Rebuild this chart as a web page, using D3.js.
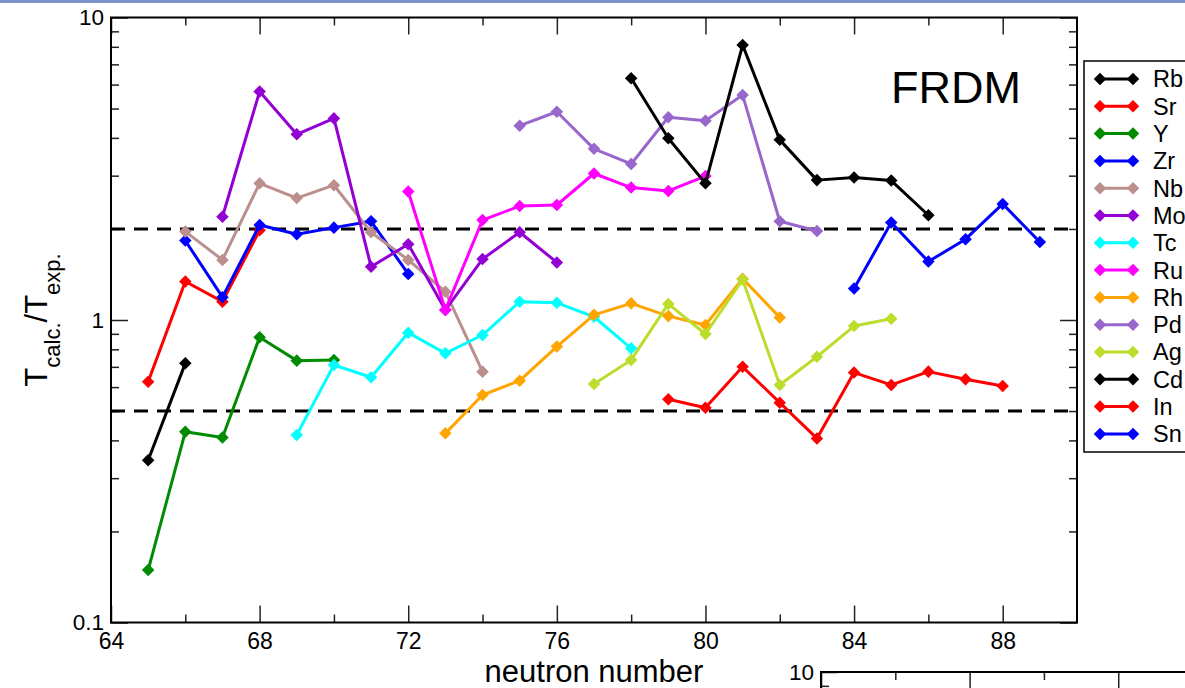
<!DOCTYPE html>
<html>
<head>
<meta charset="utf-8">
<script src="https://cdnjs.cloudflare.com/ajax/libs/d3/7.8.5/d3.min.js"></script>
<style>
  body { margin: 0; background: #fff; overflow: hidden; }
  text { font-family: "Liberation Sans", Arial, sans-serif; }
</style>
</head>
<body>
<div id="canevas"></div>
<script>

////////////////////////////////////////////////////////////////
//                          data                              //
////////////////////////////////////////////////////////////////

// [neutron number, T_calc / T_exp]
let rb = [[65, 0.344], [66, 0.719]];
let sr = [[65, 0.625], [66, 1.34], [67, 1.15], [68, 1.98]];
let y_ = [[65, 0.149], [66, 0.427], [67, 0.409], [68, 0.877], [69, 0.734], [70, 0.738]];
let zr = [[66, 1.83], [67, 1.19], [68, 2.06], [69, 1.92], [70, 2.02], [71, 2.12], [72, 1.42]];
let nb = [[66, 1.96], [67, 1.58], [68, 2.83], [69, 2.53], [70, 2.79], [71, 1.95], [72, 1.58], [73, 1.24], [74, 0.675]];
let mo = [[67, 2.195], [68, 5.69], [69, 4.11], [70, 4.64], [71, 1.5], [72, 1.78], [73, 1.08], [74, 1.59], [75, 1.95], [76, 1.55]];
let tc = [[69, 0.417], [70, 0.71], [71, 0.647], [72, 0.908], [73, 0.776], [74, 0.892], [75, 1.15], [76, 1.14], [77, 1.025], [78, 0.806]];
let ru = [[72, 2.66], [73, 1.08], [74, 2.14], [75, 2.38], [76, 2.40], [77, 3.05], [78, 2.74], [79, 2.67], [80, 2.99]];
let rh = [[73, 0.422], [74, 0.565], [75, 0.63], [76, 0.817], [77, 1.04], [78, 1.135], [79, 1.03], [80, 0.963], [81, 1.37], [82, 1.02]];
let pd = [[75, 4.39], [76, 4.88], [77, 3.68], [78, 3.28], [79, 4.68], [80, 4.56], [81, 5.54], [82, 2.12], [83, 1.97]];
let ag = [[77, 0.614], [78, 0.738], [79, 1.13], [80, 0.899], [81, 1.36], [82, 0.61], [83, 0.756], [84, 0.955], [85, 1.01]];
let cd = [[78, 6.3], [79, 3.99], [80, 2.83], [81, 8.11], [82, 3.94], [83, 2.90], [84, 2.96], [85, 2.89], [86, 2.22]];
let in_ = [[79, 0.547], [80, 0.513], [81, 0.70], [82, 0.533], [83, 0.406], [84, 0.67], [85, 0.61], [86, 0.675], [87, 0.637], [88, 0.605]];
let sn = [[84, 1.27], [85, 2.10], [86, 1.56], [87, 1.85], [88, 2.42], [89, 1.81]];

let elements = ["Rb", "Sr", "Y", "Zr", "Nb", "Mo", "Tc", "Ru", "Rh", "Pd", "Ag", "Cd", "In", "Sn"];
let series = [rb, sr, y_, zr, nb, mo, tc, ru, rh, pd, ag, cd, in_, sn];

// reference lines
let bornes = [2, 0.5];

// ticks
let xMajor = [64, 68, 72, 76, 80, 84, 88];
let xMinor = [66, 70, 74, 78, 82, 86];
let yMajor = [0.1, 1, 10];
let yMinor = [0.2, 0.3, 0.4, 0.5, 0.6, 0.7, 0.8, 0.9, 2, 3, 4, 5, 6, 7, 8, 9];

////////////////////////////////////////////////////////////////
//                          canvas                            //
////////////////////////////////////////////////////////////////

let largeur = 1185;
let hauteur = 688;

let couleurs = {
  Rb: "#000000", Sr: "#ff0000", Y: "#008b00", Zr: "#0000ff", Nb: "#bc8f8f",
  Mo: "#9400d3", Tc: "#00ffff", Ru: "#ff00ff", Rh: "#ffa500", Pd: "#9966cc",
  Ag: "#bbdd2c", Cd: "#000000", In: "#ff0000", Sn: "#0000ff"
};

let canevas = d3.select("#canevas")
  .append("svg")
  .attr("width", largeur)
  .attr("height", hauteur);

canevas.append("rect")
  .attr("width", "100%")
  .attr("height", "100%")
  .attr("fill", "#ffffff");

// slide bar on top
canevas.append("rect")
  .attr("x", 0).attr("y", 0)
  .attr("width", largeur).attr("height", 3)
  .attr("fill", "#7b93c7");

let gauche = 111, droite = 1077, haut = 17.5, bas = 622.5;

let echelleX = d3.scaleLinear()
  .domain([64, 90])
  .range([gauche, droite]);

let echelleY = d3.scaleLog()
  .domain([0.1, 10])
  .range([bas, haut]);

////////////////////////////////////////////////////////////////
//                           axes                             //
////////////////////////////////////////////////////////////////

function styliser(g) {
  g.select(".domain").remove();
  g.selectAll(".tick line").attr("stroke", "#222").attr("stroke-width", 1.5);
  g.selectAll(".tick text").attr("fill", "#000");
}

canevas.append("g")
  .attr("transform", `translate(0,${bas})`)
  .call(d3.axisBottom(echelleX).tickValues(xMajor).tickSize(-17).tickPadding(10).tickFormat(d3.format("d")))
  .call(styliser)
  .selectAll("text").style("font-size", "23px");

canevas.append("g")
  .attr("transform", `translate(0,${bas})`)
  .call(d3.axisBottom(echelleX).tickValues(xMinor).tickSize(-8).tickFormat(""))
  .call(styliser);

canevas.append("g")
  .attr("transform", `translate(0,${haut})`)
  .call(d3.axisTop(echelleX).tickValues(xMajor).tickSize(-17).tickFormat(""))
  .call(styliser);

canevas.append("g")
  .attr("transform", `translate(0,${haut})`)
  .call(d3.axisTop(echelleX).tickValues(xMinor).tickSize(-8).tickFormat(""))
  .call(styliser);

canevas.append("g")
  .attr("transform", `translate(${gauche},0)`)
  .call(d3.axisLeft(echelleY).tickValues(yMajor).tickSize(-17).tickPadding(7).tickFormat(d => d == 0.1 ? "0.1" : d3.format("d")(d)))
  .call(styliser)
  .selectAll("text").style("font-size", "22.5px");

canevas.append("g")
  .attr("transform", `translate(${gauche},0)`)
  .call(d3.axisLeft(echelleY).tickValues(yMinor).tickSize(-8).tickFormat(""))
  .call(styliser);

canevas.append("g")
  .attr("transform", `translate(${droite},0)`)
  .call(d3.axisRight(echelleY).tickValues(yMajor).tickSize(-17).tickFormat(""))
  .call(styliser);

canevas.append("g")
  .attr("transform", `translate(${droite},0)`)
  .call(d3.axisRight(echelleY).tickValues(yMinor).tickSize(-8).tickFormat(""))
  .call(styliser);

// frame
canevas.append("rect")
  .attr("x", gauche).attr("y", haut)
  .attr("width", droite - gauche).attr("height", bas - haut)
  .attr("fill", "none")
  .attr("stroke", "#000")
  .attr("stroke-width", 2);

// titles
canevas.append("text")
  .attr("x", (gauche + droite) / 2)
  .attr("y", 682)
  .attr("text-anchor", "middle")
  .style("font-size", "31px")
  .text("neutron number");

let titreY = canevas.append("text")
  .attr("transform", "translate(47,320) rotate(-90)")
  .attr("text-anchor", "middle")
  .style("font-size", "31px");
titreY.append("tspan").text("T");
titreY.append("tspan").attr("dy", 13).style("font-size", "22px").text("calc.");
titreY.append("tspan").attr("dy", -13).text("/T");
titreY.append("tspan").attr("dy", 13).style("font-size", "22px").text("exp.");

canevas.append("text")
  .attr("x", 891)
  .attr("y", 103)
  .style("font-size", "45px")
  .text("FRDM");

////////////////////////////////////////////////////////////////
//                          data marks                        //
////////////////////////////////////////////////////////////////

// dashed lines
canevas.selectAll(".borne")
  .data(bornes)
  .enter()
  .append("line")
  .attr("x1", gauche).attr("x2", droite)
  .attr("y1", d => echelleY(d)).attr("y2", d => echelleY(d))
  .attr("stroke", "#000")
  .attr("stroke-width", 3)
  .attr("stroke-dasharray", "14,9");

let ligne = d3.line()
  .x(d => echelleX(d[0]))
  .y(d => echelleY(d[1]));

let losange = d3.symbol().type(d3.symbolDiamond2).size(100);

series.forEach(function(donnees, i) {
  let c = couleurs[elements[i]];
  canevas.append("path")
    .datum(donnees)
    .attr("d", ligne)
    .attr("fill", "none")
    .attr("stroke", c)
    .attr("stroke-width", 3)
    .attr("stroke-linejoin", "round");
  canevas.selectAll(".pt" + i)
    .data(donnees)
    .enter()
    .append("path")
    .attr("d", losange)
    .attr("transform", d => `translate(${echelleX(d[0])},${echelleY(d[1])})`)
    .attr("fill", c);
});

////////////////////////////////////////////////////////////////
//                          legend                            //
////////////////////////////////////////////////////////////////

canevas.append("rect")
  .attr("x", 1084).attr("y", 61)
  .attr("width", 200).attr("height", 391)
  .attr("fill", "#fff")
  .attr("stroke", "#000")
  .attr("stroke-width", 1.5);

let legende = canevas.selectAll(".leg")
  .data(elements)
  .enter()
  .append("g")
  .attr("transform", (d, i) => `translate(0,${79 + i * 27.3})`);

legende.append("line")
  .attr("x1", 1100).attr("x2", 1133)
  .attr("stroke", d => couleurs[d])
  .attr("stroke-width", 3);

legende.selectAll(".m")
  .data(d => [[1100, d], [1133, d]])
  .enter()
  .append("path")
  .attr("d", losange)
  .attr("transform", d => `translate(${d[0]},0)`)
  .attr("fill", d => couleurs[d[1]]);

legende.append("text")
  .attr("x", 1153)
  .attr("dy", "0.36em")
  .style("font-size", "23.5px")
  .text(d => d);

////////////////////////////////////////////////////////////////
//                 next chart, cut at the bottom              //
////////////////////////////////////////////////////////////////

let gauche2 = 821, haut2 = 672;
let echelleX2 = d3.scaleLinear().domain([64, 90]).range([gauche2, gauche2 + (droite - gauche)]);
let echelleY2 = d3.scaleLog().domain([0.1, 10]).range([haut2 + (bas - haut), haut2]);

canevas.append("g")
  .attr("transform", `translate(0,${haut2})`)
  .call(d3.axisTop(echelleX2).tickValues(xMajor).tickSize(-17).tickFormat(""))
  .call(styliser);
canevas.append("g")
  .attr("transform", `translate(0,${haut2})`)
  .call(d3.axisTop(echelleX2).tickValues(xMinor).tickSize(-8).tickFormat(""))
  .call(styliser);
canevas.append("g")
  .attr("transform", `translate(${gauche2},0)`)
  .call(d3.axisLeft(echelleY2).tickValues([10]).tickSize(-17).tickPadding(7).tickFormat(d3.format("d")))
  .call(styliser)
  .selectAll("text").style("font-size", "22.5px");
canevas.append("g")
  .attr("transform", `translate(${gauche2},0)`)
  .call(d3.axisLeft(echelleY2).tickValues(yMinor).tickSize(-8).tickFormat(""))
  .call(styliser);
canevas.append("rect")
  .attr("x", gauche2).attr("y", haut2)
  .attr("width", droite - gauche).attr("height", bas - haut)
  .attr("fill", "none")
  .attr("stroke", "#000")
  .attr("stroke-width", 2);

</script>
</body>
</html>
